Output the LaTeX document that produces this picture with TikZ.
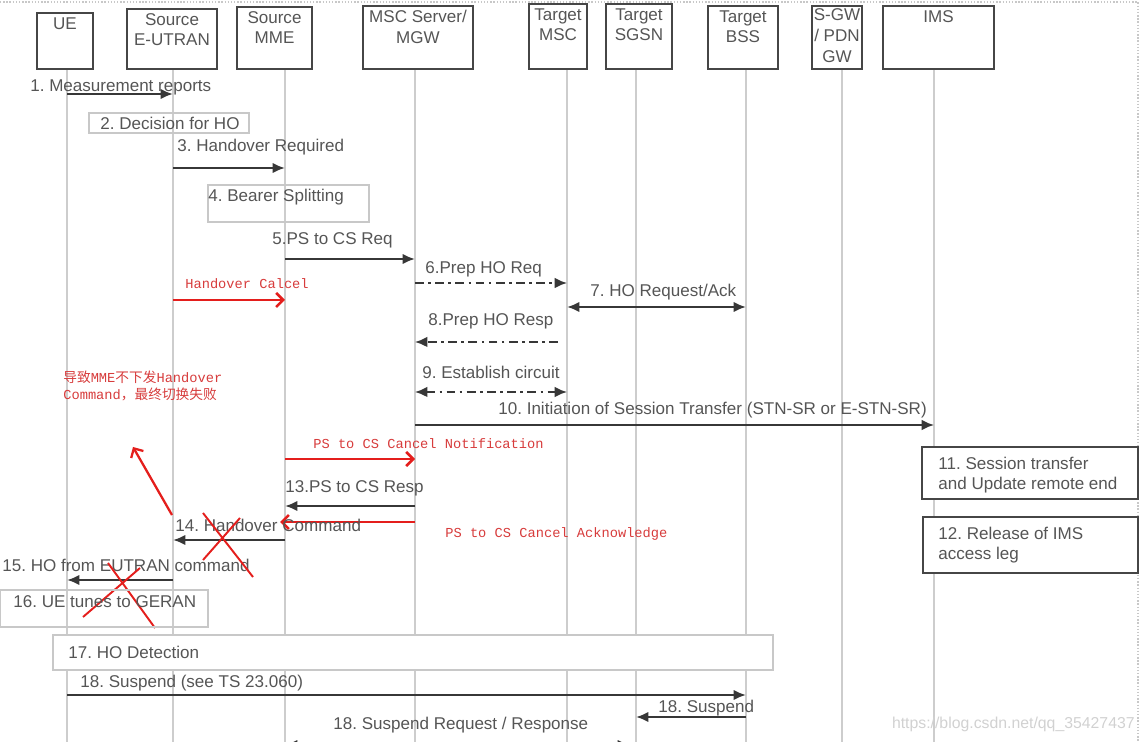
\documentclass[tikz,border=0pt]{standalone}
\usepackage{fontspec}
\setmainfont{Liberation Sans}
\newfontfamily\monofont{Liberation Mono}
\newfontfamily\cjk{Noto Sans CJK SC}
\usepackage{tikz}
\usetikzlibrary{arrows.meta,positioning,fit}
\definecolor{txtgray}{RGB}{85, 85, 85}
\definecolor{boxgray}{RGB}{70, 70, 70}
\definecolor{lifegray}{RGB}{205, 205, 205}
\definecolor{notegray}{RGB}{200, 200, 200}
\definecolor{arrowgray}{RGB}{55, 55, 55}
\definecolor{redline}{RGB}{228, 30, 28}
\definecolor{redtext}{RGB}{215, 60, 60}
\frenchspacing

\begin{document}
\begin{tikzpicture}[x=0.02cm,y=-0.02cm,
    hdr/.style={draw=boxgray,line width=1.2pt,inner sep=0pt},
    hdrtxt/.style={anchor=north,inner sep=3pt,align=center,text=txtgray,font=\fontsize{9.7}{11.6}\selectfont},
    life/.style={draw=lifegray,line width=0.9pt},
    lbl/.style={anchor=west,inner sep=0pt,text=txtgray,font=\fontsize{9.7}{11.5}\selectfont},
    redlbl/.style={anchor=west,inner sep=0pt,text=redtext,font=\monofont\fontsize{7.8}{9.4}\selectfont,align=left},
    note/.style={draw=notegray,line width=0.8pt,inner sep=0pt},
    imsnote/.style={draw=boxgray,line width=1pt,fill=white,inner sep=0pt},
    msg/.style={draw=arrowgray,line width=1.3pt,-{Latex[length=7pt,width=6pt]}},
    dashdot/.style={msg,line width=1.1pt,dash pattern=on 5pt off 2.5pt on 1.5pt off 2.5pt},
    both/.style={{Latex[length=7pt,width=6pt]}-{Latex[length=7pt,width=6pt]}},
    cancel/.style={draw=redline,line width=1.5pt,-{Straight Barb[length=4pt,width=8pt]}},
    cross/.style={draw=redline,line width=1.1pt}]
    \useasboundingbox (0,0) rectangle (1146,742);
    \draw[notegray,densely dotted,line width=0.8pt] (0,2) -- (1138,2) -- (1138,742);

    % lifelines
    \foreach \n/\x in {ue/67,enb/173,mme/285,msc/415,tmsc/567,sgsn/636,bss/746,sgw/842,ims/934}{
        \coordinate (l\n) at (\x,69);
        \draw[life] (l\n) -- (\x,742);
    }

    % header boxes
    \node[hdr,fit={(37,13) (93,69)}] (ue) {};
    \node[hdrtxt] (ue-t) at (ue.north) {UE};
    \node[hdr,fit={(127,9) (217,69)}] (enb) {};
    \node[hdrtxt] (enb-t) at (enb.north) {Source\\E-UTRAN};
    \node[hdr,fit={(237,7) (312,69)}] (mme) {};
    \node[hdrtxt] (mme-t) at (mme.north) {Source\\MME};
    \node[hdr,fit={(363,6) (473,69)}] (msc) {};
    \node[hdrtxt] (msc-t) at (msc.north) {MSC Server/\\MGW};
    \node[hdr,fit={(529,4) (587,69)}] (tmsc) {};
    \node[hdrtxt] (tmsc-t) at (tmsc.north) {Target\\MSC};
    \node[hdr,fit={(606,4) (672,69)}] (sgsn) {};
    \node[hdrtxt] (sgsn-t) at (sgsn.north) {Target\\SGSN};
    \node[hdr,fit={(708,6) (778,69)}] (bss) {};
    \node[hdrtxt] (bss-t) at (bss.north) {Target\\BSS};
    \node[hdr,fit={(812,6) (862,69)}] (sgw) {};
    \node[hdrtxt,inner sep=2pt,font=\fontsize{9.7}{11.8}\selectfont] (sgw-t) at (sgw.north) {S-GW\\/ PDN\\GW};
    \node[hdr,fit={(883,6) (994,69)}] (ims) {};
    \node[hdrtxt] (ims-t) at (ims.north) {IMS};

    % 1 - 5
    \node[lbl] (m1) at (30,87) {1. Measurement reports};
    \draw[msg] (lue |- 0,94) -- (lenb |- 0,94);
    \node[note,fit={(89,113) (249,133)}] (d2) {};
    \node[lbl] (d2-t) at (100,123) {2. Decision for HO};
    \node[lbl] (m3) at (177,147) {3. Handover Required};
    \draw[msg] (lenb |- 0,168) -- (lmme |- 0,168);
    \node[note,fit={(208,185) (369,222)}] (d4) {};
    \node[lbl] (d4-t) at (208,197) {4. Bearer Splitting};
    \node[lbl] (m5) at (272,240) {5.PS to CS Req};
    \draw[msg] (lmme |- 0,259) -- (lmsc |- 0,259);

    % handover cancel
    \node[redlbl] (hc) at (185,284) {Handover Calcel};
    \draw[cancel] (lenb |- 0,300) -- (lmme |- 0,300);

    % 6 - 10
    \node[lbl] (m6) at (425,269) {6.Prep HO Req};
    \draw[dashdot] (lmsc |- 0,283) -- (ltmsc |- 0,283);
    \node[lbl] (m7) at (590,292) {7. HO Request/Ack};
    \draw[msg,both] (ltmsc |- 0,307) -- (lbss |- 0,307);
    \node[lbl] (m8) at (428,321) {8.Prep HO Resp};
    \draw[dashdot] (558,342) -- (lmsc |- 0,342);
    \node[lbl] (m9) at (422,372) {9. Establish circuit};
    \draw[dashdot,both] (lmsc |- 0,392) -- (ltmsc |- 0,392);
    \node[lbl] (m10) at (498,410) {10. Initiation of Session Transfer (STN-SR or E-STN-SR)};
    \draw[msg,line width=1.1pt] (lmsc |- 0,425) -- (lims |- 0,425);

    % cancel notification
    \node[redlbl] (cn) at (313,444) {PS to CS Cancel Notification};
    \draw[cancel] (lmme |- 0,459) -- (lmsc |- 0,459);

    % IMS boxes
    \node[imsnote,fit={(922,447) (1138,499)}] (s11) {};
    \node[lbl,anchor=north west,align=left] (s11-t) at (938,457) {11. Session transfer\\and Update remote end};
    \node[imsnote,fit={(923,517) (1138,573)}] (s12) {};
    \node[lbl,anchor=north west,align=left] (s12-t) at (938,527) {12. Release of IMS\\access leg};

    % 13 - 15
    \node[lbl] (m13) at (285,488) {13.PS to CS Resp};
    \draw[msg] (lmsc |- 0,506) -- (lmme |- 0,506);
    \draw[cancel] (lmsc |- 0,522) -- (280,522);
    \node[redlbl] (ca) at (445,534) {PS to CS Cancel Acknowledge};
    \node[lbl] (m14) at (175,525) {14. Handover Command};
    \draw[msg] (lmme |- 0,540) -- (lenb |- 0,540);
    \node[lbl] (m15) at (2,565) {15. HO from EUTRAN command};
    \draw[msg] (lenb |- 0,580) -- (lue |- 0,580);

    % failure note
    \node[redlbl] (fail) at (63,386) {{\cjk 导致}MME{\cjk 不下发}Handover\\Command{\cjk ，最终切换失败}};
    \draw[redline,line width=1.3pt,-{Straight Barb[length=4pt,width=8pt]}] (172,515) -- (133,447);
    \draw[cross] (203,513) -- (253,577);
    \draw[cross] (203,560) -- (240,518);
    \draw[cross] (108,563) -- (155,628);
    \draw[cross] (83,617) -- (140,568);

    % 16 - 18
    \node[note,fit={(0,590) (208,627)}] (d16) {};
    \node[lbl] (d16-t) at (13,602) {16. UE tunes to GERAN};
    \node[note,fill=white,fit={(53,635) (773,670)}] (d17) {};
    \node[lbl] (d17-t) at (68,652) {17. HO Detection};
    \node[lbl] (m18a) at (80,683) {18. Suspend (see TS 23.060)};
    \draw[msg] (lue |- 0,695) -- (lbss |- 0,695);
    \node[lbl] (m18b) at (658,708) {18. Suspend};
    \draw[msg] (lbss |- 0,717) -- (lsgsn |- 0,717);
    \node[lbl] (m18c) at (333,725) {18. Suspend Request / Response};
    \draw[msg,both] (lmme |- 0,745) -- (630,745);

    \node[anchor=east,inner sep=0pt,text=black!18,font=\fontsize{9}{11}\selectfont] (wm) at (1135,724) {https://blog.csdn.net/qq\_35427437};
\end{tikzpicture}
\end{document}
